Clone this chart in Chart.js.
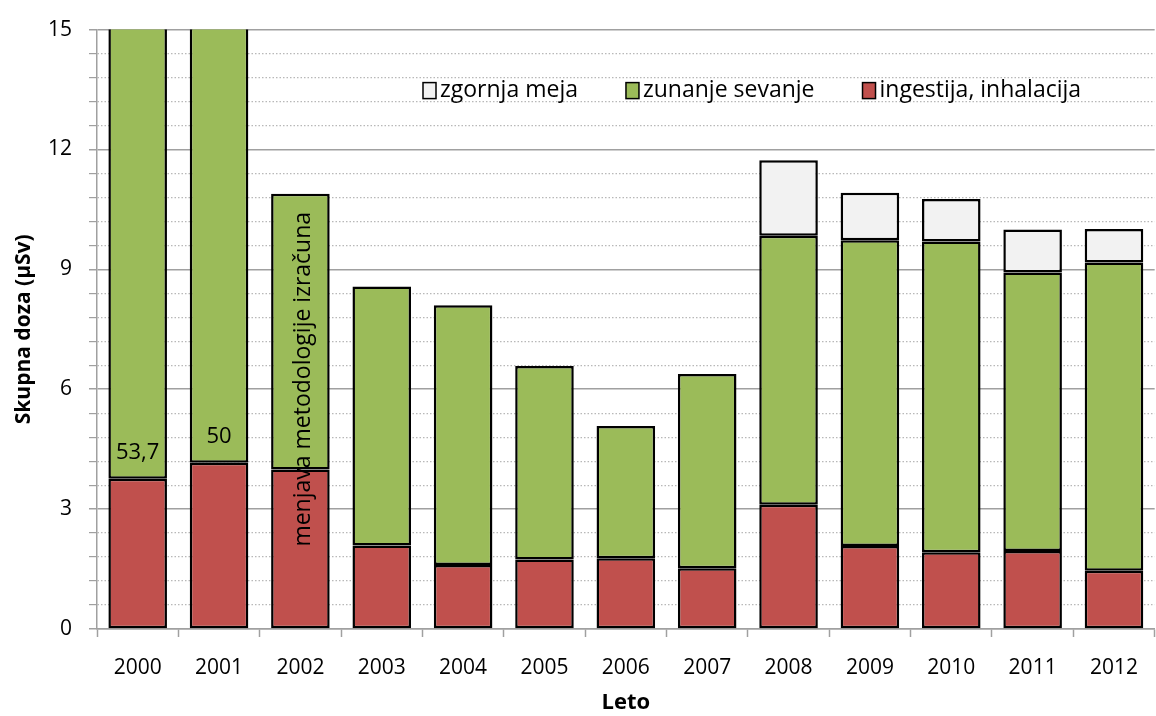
<!DOCTYPE html>
<html>
<head>
<meta charset="utf-8">
<script src="https://cdn.jsdelivr.net/npm/chart.js@4/dist/chart.umd.min.js"></script>
<style>
  html, body { margin: 0; padding: 0; background: #fff; }
  #wrap { width: 1156px; height: 716px; }
</style>
</head>
<body>
<div id="wrap"><canvas id="myChart"></canvas></div>
<script>
const years = ["2000", "2001", "2002", "2003", "2004", "2005", "2006", "2007", "2008", "2009", "2010", "2011", "2012"];
const ingestija = [3.76, 4.16, 3.99, 2.09, 1.6, 1.74, 1.77, 1.52, 3.11, 2.08, 1.92, 1.95, 1.46];
const zunanje = [49.94, 45.84, 6.9, 6.48, 6.5, 4.84, 3.31, 4.86, 6.73, 7.65, 7.78, 6.97, 7.71];
const zgornja = [null, null, null, null, null, null, null, null, 1.89, 1.19, 1.06, 1.08, 0.84];
const totalLabels = ["53,7", "50"];
const noteYear = "2002";
const noteText = "menjava metodologije izračuna";
const noteValue = 6.25;

const FONT = "'Open Sans', sans-serif";
const colors = { zgornja: "#f2f2f2", zunanje: "#9bbb59", ingestija: "#c0504d" };

// labels above the red part of the first two (clipped) bars, plus the rotated note
const annotations = {
  id: "annotations",
  afterDatasetsDraw(chart) {
    const { ctx, scales: { x, y } } = chart;
    ctx.save();
    ctx.fillStyle = "#000";
    ctx.font = "22px " + FONT;
    ctx.textAlign = "center";
    ctx.textBaseline = "bottom";
    totalLabels.forEach((txt, i) => {
      ctx.fillText(txt, x.getPixelForValue(i), y.getPixelForValue(ingestija[i]) - 15);
    });
    ctx.font = "23px " + FONT;
    ctx.translate(x.getPixelForValue(years.indexOf(noteYear)) + 3, y.getPixelForValue(noteValue));
    ctx.rotate(-Math.PI / 2);
    ctx.textBaseline = "middle";
    ctx.fillText(noteText, 0, 0);
    ctx.restore();
  },
};

// legend drawn inside the plot, top right
const innerLegend = {
  id: "innerLegend",
  afterDraw(chart) {
    const { ctx, chartArea } = chart;
    const items = [
      ["zgornja meja", colors.zgornja],
      ["zunanje sevanje", colors.zunanje],
      ["ingestija, inhalacija", colors.ingestija],
    ];
    ctx.save();
    ctx.font = "23px " + FONT;
    ctx.textBaseline = "middle";
    let px = chartArea.left + 326;
    const py = chartArea.top + 61;
    items.forEach(([txt, col]) => {
      ctx.fillStyle = col;
      ctx.fillRect(px, py - 8, 13, 16);
      ctx.strokeStyle = "#000";
      ctx.lineWidth = 1.5;
      ctx.strokeRect(px, py - 8, 13, 16);
      ctx.fillStyle = "#000";
      ctx.fillText(txt, px + 17, py);
      px += 17 + ctx.measureText(txt).width + 48;
    });
    ctx.restore();
  },
};

const isMajor = (v) => Math.abs(v / 3 - Math.round(v / 3)) < 1e-6;

const ctx = document.getElementById("myChart").getContext("2d");

const chart = new Chart(ctx, {
  type: "bar",
  data: {
    labels: years,
    datasets: [
      { label: "ingestija, inhalacija", data: ingestija, backgroundColor: colors.ingestija },
      { label: "zunanje sevanje", data: zunanje, backgroundColor: colors.zunanje },
      { label: "zgornja meja", data: zgornja, backgroundColor: colors.zgornja },
    ],
  },
  options: {
    responsive: true,
    maintainAspectRatio: false,
    animation: false,
    layout: { padding: { top: 15, right: 0, left: 0, bottom: 0 } },
    datasets: {
      bar: {
        borderColor: "#000",
        borderWidth: 2.5,
        borderSkipped: false,
        barPercentage: 0.72,
        categoryPercentage: 1,
        clip: 0,
      },
    },
    plugins: {
      legend: { display: false },
      tooltip: { enabled: false },
    },
    scales: {
      x: {
        stacked: true,
        afterFit: (scale) => { scale.height = 87; },
        grid: {
          drawOnChartArea: false,
          offset: true,
          tickLength: 8,
          tickColor: "#a0a0a0",
          tickWidth: 1.5,
        },
        border: { color: "#a0a0a0", width: 1.5 },
        ticks: {
          color: "#000",
          padding: 18,
          font: { family: FONT, size: 21 },
        },
        title: {
          display: true,
          text: "Leto",
          color: "#000",
          padding: { top: 0, bottom: 0 },
          font: { family: FONT, size: 22, weight: "bold" },
        },
      },
      y: {
        stacked: true,
        min: 0,
        max: 15,
        afterFit: (scale) => { scale.width = 97; },
        grid: {
          color: (c) => (c.tick && isMajor(c.tick.value) ? "#a0a0a0" : "#b8b8b8"),
          lineWidth: (c) => (c.tick && isMajor(c.tick.value) ? 1.5 : 1.2),
          tickLength: 8,
          tickColor: "#a0a0a0",
          tickBorderDash: [],
        },
        border: {
          display: true,
          color: "#a0a0a0",
          width: 1.5,
          dash: (c) => (c.tick && !isMajor(c.tick.value) ? [1.5, 2] : []),
        },
        ticks: {
          stepSize: 0.6,
          autoSkip: false,
          color: "#000",
          padding: 17,
          callback: (v) => (isMajor(v) ? String(Math.round(v)) : ""),
          font: { family: FONT, size: 21 },
        },
        title: {
          display: true,
          text: "Skupna doza (µSv)",
          color: "#000",
          padding: { top: 11, bottom: 0 },
          font: { family: FONT, size: 21, weight: "bold" },
        },
      },
    },
  },
  plugins: [annotations, innerLegend],
});
</script>
</body>
</html>
